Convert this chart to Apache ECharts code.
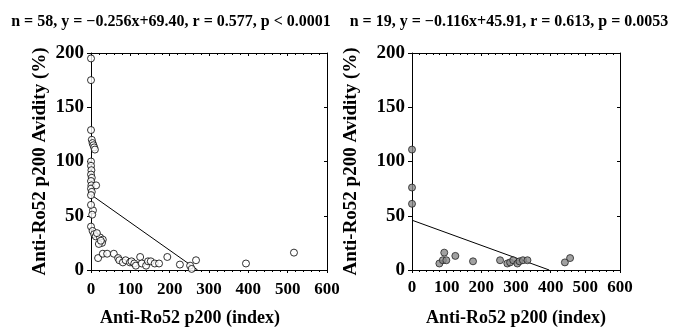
<!DOCTYPE html>
<html>
<head>
<meta charset="utf-8">
<script src="https://cdn.jsdelivr.net/npm/echarts@6/dist/echarts.min.js"></script>
<style>
    html, body { margin: 0; padding: 0; background: #fff; }
    #main { width: 676px; height: 332px; }
</style>
</head>
<body>
<div id="main"></div>
<script>
// 左图 n = 58
var leftX = [0, 0, 0, 2, 4, 6, 8, 10, 0, 0, 1, 0, 2, 0, 1, 0, 2, 0, 13, 5, 3, 0, 4, 8, 12, 23, 30, 28, 20, 25, 15,
    18, 30, 41, 58, 69, 72, 81, 88, 99, 103, 110, 114, 125, 129, 140, 145, 152, 162, 173, 194, 226, 252, 256, 267, 394, 516, 0];
var leftY = [195, 175, 129, 120, 117, 115, 113, 111, 100, 96, 92, 88, 85, 82, 78, 75, 72, 69, 78, 55, 51, 40, 36, 33, 31, 30, 28, 25, 24, 27, 34,
    11, 15, 15, 15, 11, 9, 7, 9, 7, 8, 6, 4, 12, 6, 4, 8, 8, 6, 6, 12, 5, 4, 1, 9, 6, 16, 60];
// 右图 n = 19
var rightX = [0, 0, 0, 79, 89, 93, 99, 125, 176, 254, 275, 283, 292, 304, 310, 320, 333, 441, 456];
var rightY = [111, 76, 61, 6, 9, 16, 9, 13, 8, 9, 6, 7, 9, 6, 8, 9, 9, 7, 11];

// 回归线
var leftFit = { slope: -0.256, intercept: 69.40 };
var rightFit = { slope: -0.116, intercept: 45.91 };

var titles = [
    'n = 58, y = \u22120.256x+69.40, r = 0.577, p < 0.0001',
    'n = 19, y = \u22120.116x+45.91, r = 0.613, p = 0.0053'
];
var xName = 'Anti-Ro52 p200 (index)';
var yName = 'Anti-Ro52 p200 Avidity (%)';

var font = 'Liberation Serif';

function pairs(xs, ys) {
    var out = [];
    for (var i = 0; i < xs.length; i++) {
        out.push([xs[i], ys[i]]);
    }
    return out;
}

function fitLine(fit) {
    return [[0, fit.intercept], [-fit.intercept / fit.slope, 0]];
}

function xAxes(idx, labelMargin, namePad) {
    return [{
        gridIndex: idx,
        type: 'value',
        min: 0,
        max: 600,
        interval: 100,
        name: xName,
        nameLocation: 'middle',
        nameGap: 39,
        nameTextStyle: { fontFamily: font, fontWeight: 'bold', fontSize: 18, color: '#000', padding: namePad },
        axisLine: { onZero: false, lineStyle: { color: '#000', width: 1 } },
        axisTick: { show: true, inside: false, length: 3, lineStyle: { color: '#000' } },
        minorTick: { show: true, splitNumber: 5, length: 2, lineStyle: { color: '#000' } },
        axisLabel: { fontFamily: font, fontWeight: 'bold', fontSize: 17, color: '#000', margin: labelMargin },
        splitLine: { show: false }
    }, {
        gridIndex: idx,
        type: 'value',
        position: 'top',
        min: 0,
        max: 600,
        interval: 100,
        axisLine: { onZero: false, lineStyle: { color: '#000', width: 1 } },
        axisTick: { show: true, inside: true, length: 3, lineStyle: { color: '#000' } },
        minorTick: { show: true, splitNumber: 5, length: 2, lineStyle: { color: '#000' } },
        axisLabel: { show: false },
        splitLine: { show: false }
    }];
}

function yAxes(idx, nameGap) {
    return [{
        gridIndex: idx,
        type: 'value',
        min: 0,
        max: 200,
        interval: 50,
        name: yName,
        nameLocation: 'middle',
        nameGap: nameGap,
        nameRotate: 90,
        nameTextStyle: { fontFamily: font, fontWeight: 'bold', fontSize: 19, color: '#000' },
        axisLine: { show: true, onZero: false, lineStyle: { color: '#000', width: 1 } },
        axisTick: { show: true, inside: false, length: 4, lineStyle: { color: '#000' } },
        axisLabel: { fontFamily: font, fontWeight: 'bold', fontSize: 19, color: '#000', margin: 7 },
        splitLine: { show: false }
    }, {
        gridIndex: idx,
        type: 'value',
        position: 'right',
        min: 0,
        max: 200,
        interval: 50,
        axisLine: { show: true, onZero: false, lineStyle: { color: '#000', width: 1 } },
        axisTick: { show: true, inside: true, length: 3, lineStyle: { color: '#000' } },
        axisLabel: { show: false },
        splitLine: { show: false }
    }];
}

var chart = echarts.init(document.getElementById('main'), null, { renderer: 'canvas' });

var option = {
    backgroundColor: '#fff',
    animation: false,
    title: [{
        text: titles[0],
        left: 166,
        top: 9,
        textAlign: 'center',
        textStyle: { fontFamily: font, fontWeight: 'bold', fontSize: 16, color: '#000' }
    }, {
        text: titles[1],
        left: 504,
        top: 9,
        textAlign: 'center',
        textStyle: { fontFamily: font, fontWeight: 'bold', fontSize: 16, color: '#000' }
    }],
    grid: [
        { left: 91, right: 349, top: 53, bottom: 59, containLabel: false },
        { left: 412, right: 56, top: 53, bottom: 61, containLabel: false }
    ],
    xAxis: xAxes(0, 11, [0, 38, 0, 0]).concat(xAxes(1, 9, [0, 0, 0, 0])),
    yAxis: yAxes(0, 41).concat(yAxes(1, 51)),
    series: [{
        // 左图散点
        type: 'scatter',
        xAxisIndex: 0,
        yAxisIndex: 0,
        symbol: 'circle',
        symbolSize: 7,
        itemStyle: { color: '#fff', borderColor: '#000', borderWidth: 1 },
        data: pairs(leftX, leftY),
        z: 3
    }, {
        type: 'line',
        xAxisIndex: 0,
        yAxisIndex: 0,
        showSymbol: false,
        lineStyle: { color: '#000', width: 1 },
        data: fitLine(leftFit),
        z: 2
    }, {
        // 右图散点
        type: 'scatter',
        xAxisIndex: 2,
        yAxisIndex: 2,
        symbol: 'circle',
        symbolSize: 7,
        itemStyle: { color: '#8a8a8a', borderColor: '#222', borderWidth: 1 },
        data: pairs(rightX, rightY),
        z: 3
    }, {
        type: 'line',
        xAxisIndex: 2,
        yAxisIndex: 2,
        showSymbol: false,
        lineStyle: { color: '#000', width: 1 },
        data: fitLine(rightFit),
        z: 2
    }]
};

chart.setOption(option);
</script>
</body>
</html>
